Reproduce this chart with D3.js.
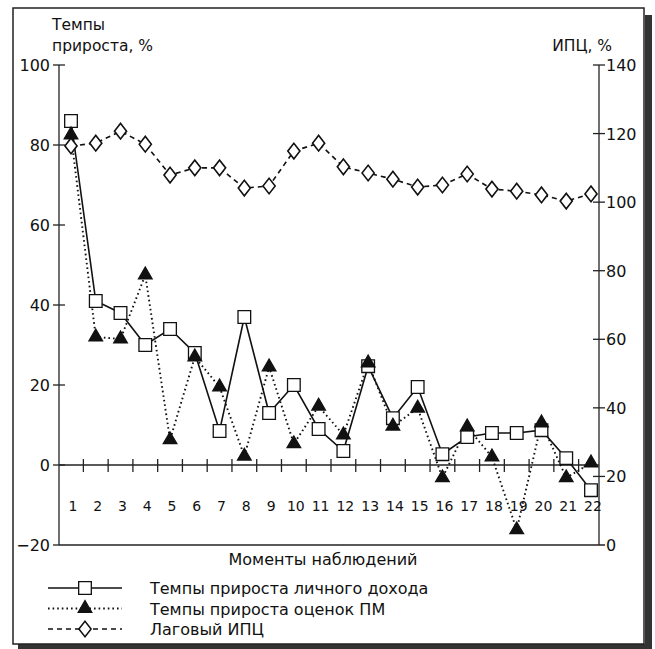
<!DOCTYPE html>
<html>
<head>
<meta charset="utf-8">
<script src="https://cdn.jsdelivr.net/npm/d3@7"></script>
<style>
  body { margin: 0; background: #fff; }
  text { font-family: "DejaVu Sans", "Noto Sans", sans-serif; fill: #111; }
</style>
</head>
<body>
<div id="chart"></div>
<script>
// Моменты наблюдений
const moments = d3.range(1, 23);

// Темпы прироста личного дохода, % (левая ось)
const incomeGrowth = [86, 41, 38, 30, 34, 28, 8.5, 37, 13, 20, 9, 3.5, 24.7, 11.7, 19.5, 2.7, 7, 8, 8, 8.7, 1.7, -6.3];

// Темпы прироста оценок ПМ, % (левая ось)
const pmGrowth = [82.5, 32, 31.5, 47.5, 6.3, 27, 19.5, 2.2, 24.5, 5.3, 14.7, 7.5, 25.5, 9.7, 14.2, -3.2, 9.5, 2, -16.2, 10.5, -3.2, 0.5];

// Лаговый ИПЦ, % (правая ось)
const laggedCpi = [116.4, 117.2, 120.7, 116.9, 107.9, 110, 110, 104.1, 104.7, 114.9, 117.2, 110.3, 108.5, 106.7, 104.4, 105, 108.2, 103.8, 103.2, 102.1, 100.3, 102.4];

const leftTicks = [-20, 0, 20, 40, 60, 80, 100];
const rightTicks = [0, 20, 40, 60, 80, 100, 120, 140];

const legendLabels = [
	"Темпы прироста личного дохода",
	"Темпы прироста оценок ПМ",
	"Лаговый ИПЦ"
];

let width = 655, height = 649;

let svg = d3.select("#chart").append("svg")
	.attr("width", width)
	.attr("height", height);

// frame with shadow
svg.append("rect").attr("x", 645).attr("y", 15).attr("width", 7).attr("height", 633).attr("fill", "#333");
svg.append("rect").attr("x", 18).attr("y", 644).attr("width", 634).attr("height", 5).attr("fill", "#333");
svg.append("rect")
	.attr("x", 13).attr("y", 8)
	.attr("width", 631).attr("height", 636)
	.attr("fill", "#fff").attr("stroke", "#222").attr("stroke-width", 1.5);

let plotLeft = 59, plotRight = 599, plotTop = 65, plotBottom = 545;

let x = d3.scalePoint().domain(moments).range([71, 591]);
let yLeft = d3.scaleLinear().domain([-20, 100]).range([plotBottom, plotTop]);
let yRight = d3.scaleLinear().domain([0, 140]).range([plotBottom, plotTop]);

let axes = svg.append("g").attr("stroke", "#222").attr("stroke-width", 1.3).attr("fill", "none");

// left and right axes, bottom line, zero line
axes.append("line").attr("x1", plotLeft).attr("x2", plotLeft).attr("y1", plotTop).attr("y2", plotBottom);
axes.append("line").attr("x1", plotRight).attr("x2", plotRight).attr("y1", plotTop).attr("y2", plotBottom);
axes.append("line").attr("x1", plotLeft).attr("x2", plotRight + 6).attr("y1", plotBottom).attr("y2", plotBottom);
axes.append("line").attr("x1", plotLeft).attr("x2", plotRight).attr("y1", yLeft(0)).attr("y2", yLeft(0));

axes.selectAll(".lt").data(leftTicks.filter(d => d > -20)).enter().append("line")
	.attr("x1", plotLeft - 6).attr("x2", plotLeft + 6)
	.attr("y1", d => yLeft(d)).attr("y2", d => yLeft(d));
axes.append("line").attr("x1", plotLeft - 6).attr("x2", plotLeft).attr("y1", plotBottom).attr("y2", plotBottom);

axes.selectAll(".rt").data(rightTicks.filter(d => d > 0)).enter().append("line")
	.attr("x1", plotRight - 6).attr("x2", plotRight + 6)
	.attr("y1", d => yRight(d)).attr("y2", d => yRight(d));

// x ticks between moments, crossing the zero line
let mids = moments.slice(1).map(m => (x(m) + x(m - 1)) / 2);
axes.selectAll(".xt").data(mids).enter().append("line")
	.attr("x1", d => d).attr("x2", d => d)
	.attr("y1", yLeft(0) - 6).attr("y2", yLeft(0) + 7);

// tick labels
svg.selectAll(".ltl").data(leftTicks).enter().append("text")
	.attr("x", 50).attr("y", d => yLeft(d) + 6)
	.attr("text-anchor", "end").attr("font-size", 16)
	.text(d => d < 0 ? "\u2212" + Math.abs(d) : d);

svg.selectAll(".rtl").data(rightTicks).enter().append("text")
	.attr("x", 606).attr("y", d => yRight(d) + 6)
	.attr("font-size", 16)
	.text(d => d);

svg.selectAll(".xtl").data(moments).enter().append("text")
	.attr("x", d => x(d) + 2).attr("y", 511)
	.attr("text-anchor", "middle").attr("font-size", 14)
	.text(d => d);

// titles
svg.append("text").attr("x", 52).attr("y", 30).attr("font-size", 15.5).text("Темпы");
svg.append("text").attr("x", 52).attr("y", 51).attr("font-size", 15.5).text("прироста, %");
svg.append("text").attr("x", 612).attr("y", 51).attr("font-size", 15.5).attr("text-anchor", "end").text("ИПЦ, %");
svg.append("text").attr("x", 323).attr("y", 565).attr("font-size", 16).attr("text-anchor", "middle").text("Моменты наблюдений");

// series
let styles = [
	{ dash: null, width: 1.6 },
	{ dash: "1.6,3", width: 1.9 },
	{ dash: "5,4", width: 1.6 }
];

let seriesData = [
	incomeGrowth.map((v, i) => [x(moments[i]), yLeft(v)]),
	pmGrowth.map((v, i) => [x(moments[i]), yLeft(v)]),
	laggedCpi.map((v, i) => [x(moments[i]), yRight(v)])
];

let line = d3.line();
let linesLayer = svg.append("g");
seriesData.forEach((pts, i) => {
	linesLayer.append("path")
		.attr("d", line(pts))
		.attr("fill", "none")
		.attr("stroke", "#111")
		.attr("stroke-width", styles[i].width)
		.attr("stroke-dasharray", styles[i].dash);
});

let symbols = [
	d3.symbol().type(d3.symbolSquare).size(160),
	d3.symbol().type(d3.symbolTriangle).size(80),
	d3.symbol().type(d3.symbolDiamond).size(70)
];
let fills = ["#fff", "#111", "#fff"];

function drawMarker(layer, i, px, py) {
	layer.append("path")
		.attr("d", symbols[i]())
		.attr("transform", i === 2 ? `translate(${px},${py}) scale(1.35,1)` : `translate(${px},${py})`)
		.attr("fill", fills[i])
		.attr("stroke", "#111")
		.attr("stroke-width", 1.3);
}

let markersLayer = svg.append("g");
seriesData.forEach((pts, i) => {
	pts.forEach(p => drawMarker(markersLayer, i, p[0], p[1]));
});

// legend
let legendY = [588, 608.5, 629];
let legend = svg.append("g");
legendLabels.forEach((label, i) => {
	legend.append("line")
		.attr("x1", 48).attr("x2", 122)
		.attr("y1", legendY[i]).attr("y2", legendY[i])
		.attr("stroke", "#111")
		.attr("stroke-width", styles[i].width)
		.attr("stroke-dasharray", styles[i].dash);
	drawMarker(legend, i, 85, legendY[i]);
	legend.append("text")
		.attr("x", 150).attr("y", legendY[i] + 6)
		.attr("font-size", 16)
		.text(label);
});
</script>
</body>
</html>
